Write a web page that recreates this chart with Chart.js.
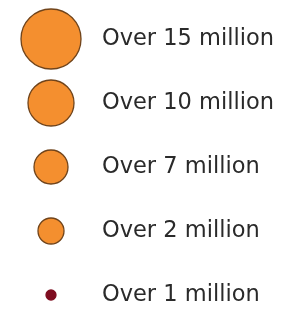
<!DOCTYPE html>
<html>
<head>
<meta charset="utf-8">
<script src="https://cdn.jsdelivr.net/npm/chart.js@4/dist/chart.umd.min.js"></script>
<style>
  html, body { margin: 0; padding: 0; background: #ffffff; }
  #wrap { width: 286px; height: 310px; }
</style>
</head>
<body>
<div id="wrap"><canvas id="c" width="286" height="310"></canvas></div>
<script>
// Legend categories (tick labels)
const categories = ["Over 15 million", "Over 10 million", "Over 7 million", "Over 2 million", "Over 1 million"];
// Threshold values (millions) for each class
const thresholds = [15, 10, 7, 2, 1];
// Bubble radius shown for each class
const markerRadius = [30, 23, 17, 13, 5];
// Fill colour of each class
const fillColors = ["#f48f2f", "#f48f2f", "#f48f2f", "#f48f2f", "#7e0d20"];
const borderColors = ["#70441b", "#70441b", "#70441b", "#70441b", "#7e0d20"];

const points = categories.map((c, i) => ({ x: 0, y: i, r: markerRadius[i], v: thresholds[i] }));

new Chart(document.getElementById('c'), {
  type: 'bubble',
  data: {
    datasets: [{
      data: points,
      backgroundColor: fillColors,
      borderColor: borderColors,
      borderWidth: 1.3,
      hoverRadius: 0
    }]
  },
  options: {
    responsive: false,
    animation: false,
    devicePixelRatio: 1,
    layout: { padding: 0, autoPadding: false },
    plugins: { legend: { display: false }, tooltip: { enabled: false } },
    scales: {
      x: {
        type: 'linear', display: false, min: -1, max: 1
      },
      y: {
        type: 'linear',
        position: 'right',
        reverse: true,
        min: -0.609,
        max: 4.234,
        grid: { display: false, drawTicks: false },
        border: { display: false },
        afterFit: (s) => { s.width = 184; s.paddingTop = 0; s.paddingBottom = 0; },
        afterBuildTicks: (s) => { s.ticks = categories.map((c, i) => ({ value: i })); },
        ticks: {
          padding: 0,
          crossAlign: 'near',
          color: '#2a2a2a',
          font: { family: 'DejaVu Sans', size: 22.5 },
          callback: (v) => categories[v]
        }
      }
    }
  }
});
</script>
</body>
</html>
